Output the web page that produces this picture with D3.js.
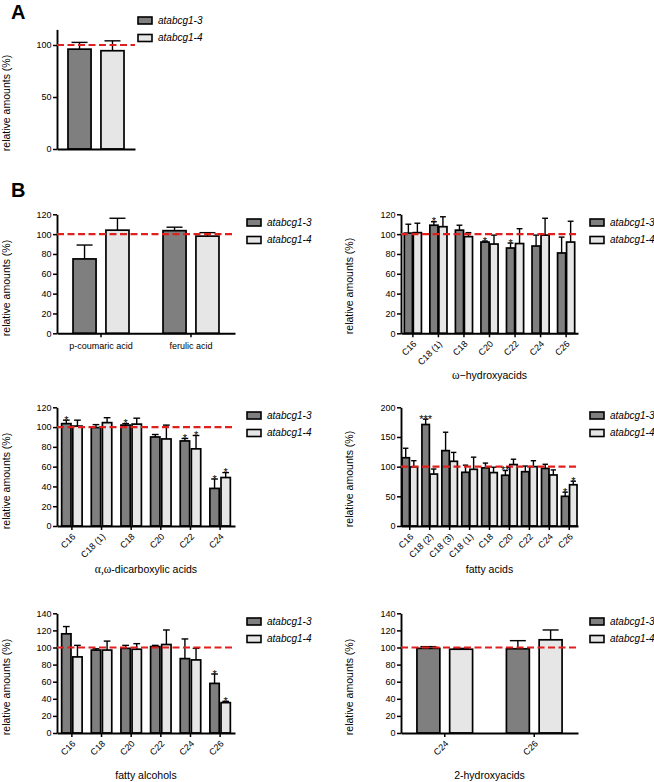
<!DOCTYPE html>
<html><head><meta charset="utf-8">
<script src="https://cdn.jsdelivr.net/npm/d3@7"></script>
<style>
body{margin:0;background:#fff}
text{font-family:"Liberation Sans",Arial,Helvetica,sans-serif;fill:#000}
</style>
</head><body>
<svg id="chart" width="654" height="782"></svg>
<script>
// ---------- DATA ----------
const seriesNames = ["atabcg1-3", "atabcg1-4"];
const seriesColors = ["#7f7f7f", "#e6e6e6"];

// A: total amounts
const totalCats = ["total"];
const total3 = [96],   total3Err = [6.5];
const total4 = [94.5], total4Err = [9.5];
const totalSig3 = [""], totalSig4 = [""];
const totalTicks = [0, 50, 100];

// B1: phenolics
const phenCats = ["p-coumaric acid", "ferulic acid"];
const phen3 = [75, 103.5], phen3Err = [14, 3.5];
const phen4 = [104, 98],   phen4Err = [12, 3.5];
const phenSig3 = ["", ""], phenSig4 = ["", ""];

// B2: omega-hydroxyacids
const ohCats = ["C16", "C18 (1)", "C18", "C20", "C22", "C24", "C26"];
const oh3 = [101, 109, 104, 92, 86, 88, 81],         oh3Err = [9, 3.5, 5, 1, 5, 11, 16];
const oh4 = [101.5, 107.5, 97.5, 90, 90.5, 99, 92],  oh4Err = [9.5, 10, 4, 9, 15, 17, 21];
const ohSig3 = ["", "*", "", "*", "*", "", ""];
const ohSig4 = ["", "", "", "", "", "", ""];

// B3: alpha,omega-dicarboxylic acids
const dcaCats = ["C16", "C18 (1)", "C18", "C20", "C22", "C24"];
const dca3 = [103.5, 99.5, 102, 90, 86, 38],  dca3Err = [3.5, 3, 1.5, 2.5, 2.5, 9.5];
const dca4 = [101, 104.5, 103, 88, 78, 49],   dca4Err = [6, 5, 6, 14, 13.5, 5];
const dcaSig3 = ["*", "", "*", "", "*", "*"];
const dcaSig4 = ["", "", "", "", "*", "*"];

// B4: fatty acids
const faCats = ["C16", "C18 (2)", "C18 (3)", "C18 (1)", "C18", "C20", "C22", "C24", "C26"];
const fa3 = [115, 171, 127, 90.5, 98, 85.5, 91.5, 97, 50],   fa3Err = [16, 9, 31, 12, 8, 8, 9.5, 7, 7];
const fa4 = [99.5, 87.5, 109, 95.5, 90, 103.5, 100, 86, 69.5], fa4Err = [10.5, 8.5, 15, 20.5, 9, 9, 10, 8.5, 6];
const faSig3 = ["", "***", "", "", "", "**", "", "", "*"];
const faSig4 = ["", "", "", "", "", "", "", "", "*"];

// B5: fatty alcohols
const falCats = ["C16", "C18", "C20", "C22", "C24", "C26"];
const fal3 = [116, 97, 99, 101, 87, 58],      fal3Err = [8.5, 1.5, 3.5, 1.5, 23, 11];
const fal4 = [89, 97, 98, 103.5, 85.5, 35.5], fal4Err = [13.5, 10.5, 6.5, 17, 13.5, 1.5];
const falSig3 = ["", "", "", "", "", "*"];
const falSig4 = ["", "", "", "", "", "*"];

// B6: 2-hydroxyacids
const hCats = ["C24", "C26"];
const h3 = [99, 98.5], h3Err = [2, 9.5];
const h4 = [98, 109],  h4Err = [1, 11.5];
const hSig3 = ["", ""], hSig4 = ["", ""];

const ticks120 = [0, 20, 40, 60, 80, 100, 120];
const ticks200 = [0, 50, 100, 150, 200];
const ticks140 = [0, 20, 40, 60, 80, 100, 120, 140];
const refValue = 100;

// ---------- LAYOUT ----------
const svg = d3.select("#chart");
const L = {x0: 57, x1: 235}, R = {x0: 401, x1: 578};
const rows = [{y0: 333.3, y1: 214.3}, {y0: 526, y1: 407.3}, {y0: 733, y1: 613.3}];

const panels = [
  {cats: totalCats, v: [total3, total4], e: [total3Err, total4Err], s: [totalSig3, totalSig4],
   yMax: 115, ticks: totalTicks, x0: 57, x1: 135, y0: 149, y1: 29.4,
   pi: 0, po: 0.196, pin: 0.3, xlab: "none", title: null,
   leg: {x: 138, y: 17}, ylab: {x: 10, y: 103}},
  {cats: phenCats, v: [phen3, phen4], e: [phen3Err, phen4Err], s: [phenSig3, phenSig4],
   yMax: 120, ticks: ticks120, ...L, ...rows[0], pi: 0.378, po: 0.178, pin: 0.3,
   xlab: "flat", title: null, leg: {x: 247, y: 219}, ylab: {x: 10, y: 288}},
  {cats: ohCats, v: [oh3, oh4], e: [oh3Err, oh4Err], s: [ohSig3, ohSig4],
   yMax: 120, ticks: ticks120, ...R, ...rows[0], pi: 0.33, po: 0.13, pin: 0.1,
   xlab: "rot", title: [["ω", true], ["−hydroxyacids", false]], titleY: 379,
   leg: {x: 590, y: 219}, ylab: {x: 353, y: 286}},
  {cats: dcaCats, v: [dca3, dca4], e: [dca3Err, dca4Err], s: [dcaSig3, dcaSig4],
   yMax: 120, ticks: ticks120, ...L, ...rows[1], pi: 0.31, po: 0.157, pin: 0.16,
   xlab: "rot", title: [["α,ω", true], ["-dicarboxylic acids", false]], titleY: 573,
   leg: {x: 247, y: 412}, ylab: {x: 10, y: 481}},
  {cats: faCats, v: [fa3, fa4], e: [fa3Err, fa4Err], s: [faSig3, faSig4],
   yMax: 200, ticks: ticks200, ...R, ...rows[1], pi: 0.22, po: 0.05, pin: 0.08,
   xlab: "rot", title: [["fatty acids", false]], titleY: 573,
   leg: {x: 590, y: 412}, ylab: {x: 353, y: 479}},
  {cats: falCats, v: [fal3, fal4], e: [fal3Err, fal4Err], s: [falSig3, falSig4],
   yMax: 140, ticks: ticks140, ...L, ...rows[2], pi: 0.31, po: 0.157, pin: 0.16,
   xlab: "rot", title: [["fatty alcohols", false]], titleY: 779,
   leg: {x: 247, y: 618}, ylab: {x: 10, y: 687}},
  {cats: hCats, v: [h3, h4], e: [h3Err, h4Err], s: [hSig3, hSig4],
   yMax: 140, ticks: ticks140, ...R, ...rows[2], pi: 0.378, po: 0.178, pin: 0.3,
   xlab: "rot", title: [["2-hydroxyacids", false]], titleY: 779,
   leg: {x: 590, y: 618}, ylab: {x: 353, y: 687}}
];

function drawPanel(p) {
  const g = svg.append("g");
  const y = d3.scaleLinear().domain([0, p.yMax]).range([p.y0, p.y1]);
  const x = d3.scaleBand().domain(p.cats).range([p.x0, p.x1])
      .paddingInner(p.pi).paddingOuter(p.po);
  const xi = d3.scaleBand().domain([0, 1]).range([0, x.bandwidth()]).paddingInner(p.pin);
  const bw = xi.bandwidth();
  const capW = Math.min(bw * 0.72, 16);

  const recs = [];
  [0, 1].forEach(s => p.cats.forEach((c, i) => recs.push({
    s, c, v: p.v[s][i], e: p.e[s][i], sig: p.s[s][i],
    cx: x(c) + xi(s) + bw / 2
  })));

  // bars
  g.selectAll("rect.bar").data(recs).join("rect")
    .attr("x", d => x(d.c) + xi(d.s)).attr("width", bw)
    .attr("y", d => y(d.v)).attr("height", d => y(0) - y(d.v))
    .attr("fill", d => seriesColors[d.s]).attr("stroke", "#000").attr("stroke-width", 1.7);

  // error bars (upper only)
  const eb = g.append("g").attr("stroke", "#000").attr("stroke-width", 1.4);
  eb.selectAll("line.v").data(recs).join("line")
    .attr("x1", d => d.cx).attr("x2", d => d.cx)
    .attr("y1", d => y(d.v)).attr("y2", d => y(d.v + d.e));
  eb.selectAll("line.c").data(recs).join("line")
    .attr("x1", d => d.cx - capW / 2).attr("x2", d => d.cx + capW / 2)
    .attr("y1", d => y(d.v + d.e)).attr("y2", d => y(d.v + d.e));

  // y axis
  const ya = g.append("g").attr("transform", `translate(${p.x0},0)`)
    .call(d3.axisLeft(y).tickValues(p.ticks).tickSize(4).tickSizeOuter(0).tickPadding(1.5));
  ya.select(".domain").attr("stroke-width", 1.9);
  ya.selectAll(".tick line").attr("stroke-width", 1.5);
  ya.selectAll(".tick text").attr("font-size", 9).attr("font-family", "Liberation Sans, Arial, sans-serif");

  // x axis
  const xa = g.append("g").attr("transform", `translate(0,${p.y0})`)
    .call(d3.axisBottom(x).tickSize(p.xlab === "none" ? 0 : 4).tickSizeOuter(0).tickPadding(5));
  xa.select(".domain").attr("stroke-width", 1.9);
  xa.selectAll(".tick line").attr("stroke-width", 1.5);
  const tt = xa.selectAll(".tick text").attr("font-size", 9).attr("font-family", "Liberation Sans, Arial, sans-serif");
  if (p.xlab === "none") tt.remove();
  else if (p.xlab === "rot") {
    tt.attr("text-anchor", "end").attr("y", 0).attr("dy", "0.35em")
      .attr("transform", "translate(2,9) rotate(-45)");
  }

  // reference line
  g.append("line").attr("x1", p.x0).attr("x2", p.x1)
    .attr("y1", y(refValue)).attr("y2", y(refValue))
    .attr("stroke", "#e0201e").attr("stroke-width", 2.2).attr("stroke-dasharray", "7,3.5");

  // significance stars
  g.selectAll("text.sig").data(recs.filter(d => d.sig)).join("text")
    .attr("x", d => d.cx).attr("y", d => y(d.v + d.e) + 3.5)
    .attr("text-anchor", "middle").attr("font-size", 11).text(d => d.sig);

  // legend
  const lg = g.append("g");
  seriesNames.forEach((n, i) => {
    lg.append("rect").attr("x", p.leg.x).attr("y", p.leg.y + i * 17.5)
      .attr("width", 14).attr("height", 7).attr("fill", seriesColors[i])
      .attr("stroke", "#000").attr("stroke-width", 1.6);
    lg.append("text").attr("x", p.leg.x + 20).attr("y", p.leg.y + i * 17.5 + 6.5)
      .attr("font-size", 10).attr("font-style", "italic").text(n);
  });

  // y label
  g.append("text").attr("transform", `translate(${p.ylab.x},${p.ylab.y}) rotate(-90)`)
    .attr("text-anchor", "middle").attr("font-size", 10.5).text("relative amounts (%)");

  // x title
  if (p.title) {
    const t = g.append("text").attr("x", (p.x0 + p.x1) / 2).attr("y", p.titleY)
      .attr("text-anchor", "middle").attr("font-size", 10.5);
    p.title.forEach(([s, serif]) => {
      const ts = t.append("tspan").text(s);
      if (serif) ts.attr("font-family", "Liberation Serif, Times New Roman, serif").attr("font-size", 11.5);
    });
  }
}
panels.forEach(drawPanel);

// panel letters
svg.append("text").attr("x", 11).attr("y", 19).attr("font-size", 20).attr("font-weight", "bold").text("A");
svg.append("text").attr("x", 11).attr("y", 197).attr("font-size", 20).attr("font-weight", "bold").text("B");
</script>
</body></html>
